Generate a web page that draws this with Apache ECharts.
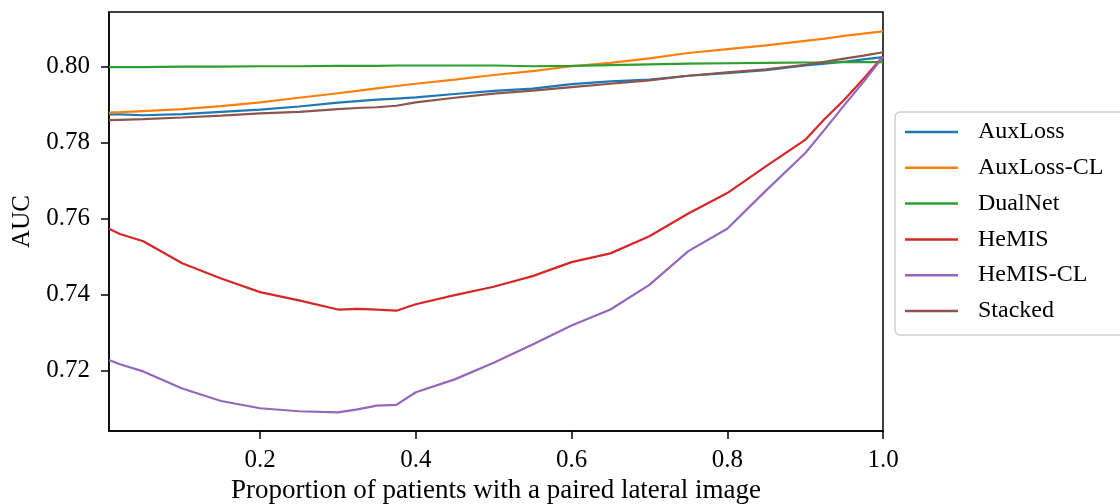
<!DOCTYPE html>
<html>
<head>
<meta charset="utf-8">
<script src="https://cdn.jsdelivr.net/npm/echarts@6/dist/echarts.min.js"></script>
<style>
html,body{margin:0;padding:0;background:#fff;}
#chart{width:1120px;height:504px;}
</style>
</head>
<body>
<div id="chart"></div>
<script>
// Proportion of patients with a paired lateral image
const xs =        [0.006, 0.02,   0.05,   0.1,    0.15,   0.2,    0.25,   0.3,    0.325,  0.35,   0.375,  0.4,    0.45,   0.5,    0.55,   0.6,    0.65,   0.7,    0.75,   0.8,    0.85,   0.9,    0.925,  0.95,   0.975,  1.0];
const auxLoss =   [0.7874, 0.7874, 0.7872, 0.7875, 0.7881, 0.7887, 0.7895, 0.7905, 0.7909, 0.7913, 0.7916, 0.7919, 0.7928, 0.7936, 0.7942, 0.7954, 0.7961, 0.7966, 0.7976, 0.7983, 0.7991, 0.8003, 0.8008, 0.8013, 0.8019, 0.8025];
const auxLossCL = [0.7879, 0.7880, 0.7883, 0.7888, 0.7896, 0.7906, 0.7918, 0.7930, 0.7936, 0.7943, 0.7949, 0.7955, 0.7966, 0.7978, 0.7988, 0.8001, 0.8010, 0.8022, 0.8036, 0.8046, 0.8056, 0.8068, 0.8074, 0.8081, 0.8087, 0.8093];
const dualNet =   [0.7999, 0.7999, 0.7999, 0.8000, 0.8000, 0.8001, 0.8001, 0.8002, 0.8002, 0.8002, 0.8003, 0.8003, 0.8003, 0.8003, 0.8001, 0.8002, 0.8004, 0.8006, 0.8008, 0.8009, 0.8010, 0.8011, 0.8011, 0.8012, 0.8012, 0.8012];
const hemis =     [0.7573, 0.7559, 0.7540, 0.7482, 0.7442, 0.7406, 0.7384, 0.7360, 0.7362, 0.7360, 0.7357, 0.7374, 0.7398, 0.7420, 0.7448, 0.7485, 0.7508, 0.7553, 0.7613, 0.7667, 0.7738, 0.7807, 0.7862, 0.7912, 0.7968, 0.8027];
const hemisCL =   [0.7227, 0.7216, 0.7197, 0.7152, 0.7119, 0.7100, 0.7092, 0.7089, 0.7097, 0.7107, 0.7109, 0.7142, 0.7176, 0.7220, 0.7268, 0.7318, 0.7360, 0.7425, 0.7514, 0.7573, 0.7674, 0.7772, 0.7834, 0.7898, 0.7960, 0.8026];
const stacked =   [0.7859, 0.7860, 0.7862, 0.7866, 0.7871, 0.7877, 0.7881, 0.7888, 0.7891, 0.7893, 0.7897, 0.7906, 0.7918, 0.7929, 0.7937, 0.7946, 0.7955, 0.7964, 0.7976, 0.7985, 0.7993, 0.8005, 0.8013, 0.8021, 0.8029, 0.8038];

const seriesNames = ['AuxLoss', 'AuxLoss-CL', 'DualNet', 'HeMIS', 'HeMIS-CL', 'Stacked'];
const seriesValues = [auxLoss, auxLossCL, dualNet, hemis, hemisCL, stacked];
const colors = ['#1f77b4', '#ff7f0e', '#2ca02c', '#d62728', '#9467bd', '#8c564b'];
const xTicks = [0.2, 0.4, 0.6, 0.8, 1.0];
const yTicks = [0.72, 0.74, 0.76, 0.78, 0.80];

const FONT = 'Liberation Serif';
const chart = echarts.init(document.getElementById('chart'), null, {renderer: 'canvas'});

chart.setOption({
  animation: false,
  color: colors,
  grid: {
    left: 109, right: 237, top: 12, bottom: 73,
    outerBoundsMode: 'none', containLabel: false,
    show: true, borderColor: '#000', borderWidth: 1.5, backgroundColor: 'transparent'
  },
  legend: {
    orient: 'vertical',
    left: 895, top: 112,
    padding: [7, 30, 11, 10],
    itemWidth: 53, itemHeight: 2.5, itemGap: 9.8,
    icon: 'rect',
    backgroundColor: '#fff',
    borderColor: '#d0d0d0', borderWidth: 1.5, borderRadius: 5,
    textStyle: {fontFamily: FONT, fontSize: 24, color: '#000', lineHeight: 26, padding: [0, 0, 0, 15]},
    data: seriesNames
  },
  xAxis: {
    type: 'value', min: 0.006, max: 1.0,
    name: 'Proportion of patients with a paired lateral image',
    nameLocation: 'middle', nameGap: 45,
    nameTextStyle: {fontFamily: FONT, fontSize: 27, color: '#000'},
    axisLine: {show: true, onZero: false, lineStyle: {color: '#000', width: 1.5}},
    axisTick: {show: true, length: 8, lineStyle: {color: '#000', width: 1.5}, customValues: xTicks},
    axisLabel: {fontFamily: FONT, fontSize: 25, color: '#000', margin: 17, customValues: xTicks,
      formatter: v => v.toFixed(1)},
    splitLine: {show: false}
  },
  yAxis: {
    type: 'value', min: 0.704, max: 0.8144,
    name: 'AUC', nameLocation: 'middle', nameGap: 74, nameRotate: 90,
    nameTextStyle: {fontFamily: FONT, fontSize: 25, color: '#000'},
    axisLine: {show: true, onZero: false, lineStyle: {color: '#000', width: 1.5}},
    axisTick: {show: true, length: 8, lineStyle: {color: '#000', width: 1.5}, customValues: yTicks},
    axisLabel: {fontFamily: FONT, fontSize: 25, color: '#000', margin: 19, customValues: yTicks,
      formatter: v => v.toFixed(2)},
    splitLine: {show: false}
  },
  series: seriesNames.map((n, i) => ({
    name: n, type: 'line', showSymbol: false, symbol: 'none',
    lineStyle: {width: 2.2, color: colors[i]},
    itemStyle: {color: colors[i]},
    data: xs.map((x, j) => [x, seriesValues[i][j]])
  }))
});
</script>
</body>
</html>
